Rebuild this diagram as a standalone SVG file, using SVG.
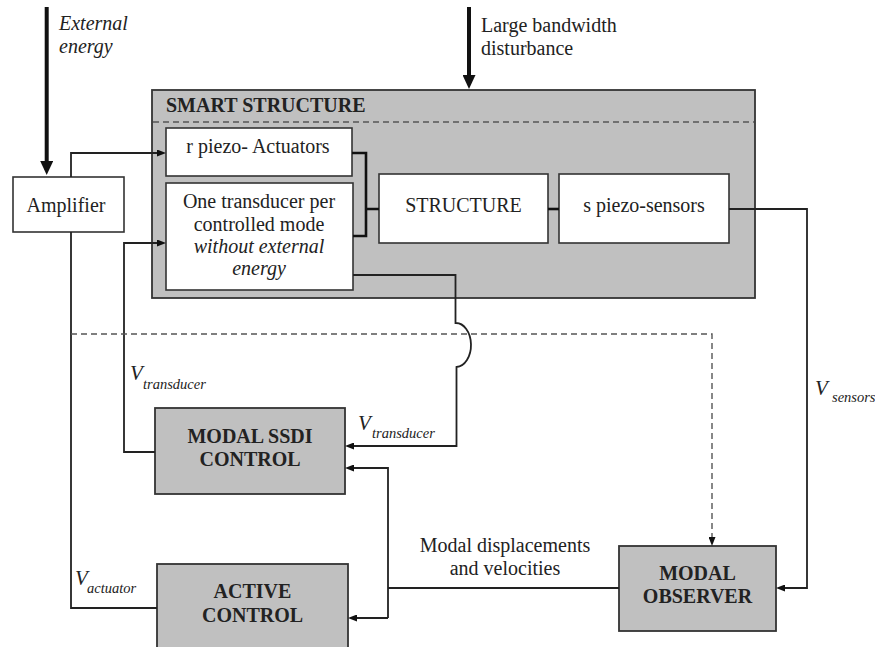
<svg xmlns="http://www.w3.org/2000/svg" width="875" height="647" viewBox="0 0 875 647" font-family="'Liberation Serif', 'Times New Roman', Times, 'DejaVu Serif', serif">
<defs>
<style>
text{font-family:'Liberation Serif','Times New Roman',Times,'DejaVu Serif',serif;fill:#222;}
.t{font-size:20px;}
.c{text-anchor:middle;}
.b{font-weight:bold;}
.i{font-style:italic;}
.v{font-size:21px;font-style:italic;}
.s{font-size:14.5px;font-style:italic;}
.wbox{fill:#fff;stroke:#333;stroke-width:1.6;}
.gbox{fill:#c0c0c0;stroke:#333;stroke-width:1.8;}
.ln{fill:none;stroke:#222;stroke-width:1.8;}
.thk{fill:none;stroke:#111;stroke-width:2.6;}
.big{fill:none;stroke:#111;stroke-width:4;}
.dash{fill:none;stroke:#555;stroke-width:1.4;stroke-dasharray:6 4;}
</style>
<marker id="arr" markerUnits="userSpaceOnUse" markerWidth="9" markerHeight="7" refX="6" refY="3.5" orient="auto">
<path d="M0,0 L9,3.5 L0,7 z" fill="#111"/>
</marker>
<marker id="bigArr" markerUnits="userSpaceOnUse" markerWidth="14" markerHeight="13" refX="9" refY="6.5" orient="auto">
<path d="M0,0 L14,6.5 L0,13 z" fill="#111"/>
</marker>
</defs>
<rect width="875" height="647" fill="#fff"/>

<g id="external-energy">
<text class="t i" x="59" y="30">External</text>
<text class="t i" x="59" y="53">energy</text>
</g>
<g id="disturbance">
<text class="t" x="481" y="32">Large bandwidth</text>
<text class="t" x="481" y="55">disturbance</text>
</g>

<g id="smart-structure">
<rect class="gbox" x="152" y="90" width="603" height="208" stroke-width="2.5"/>
<line x1="153" y1="122" x2="754" y2="122" stroke="#555" stroke-width="1.3" stroke-dasharray="6 4"/>
<text class="t b" x="166" y="112">SMART STRUCTURE</text>
</g>
<g id="actuators">
<rect class="wbox" x="166" y="128" width="186" height="48"/>
<text class="t c" x="258" y="153">r piezo- Actuators</text>
</g>
<g id="transducer">
<rect class="wbox" x="166" y="183" width="187" height="107"/>
<text class="t c" x="259" y="208">One transducer per</text>
<text class="t c" x="259" y="231">controlled mode</text>
<text class="t c i" x="259" y="253">without external</text>
<text class="t c i" x="259" y="275">energy</text>
</g>
<g id="structure">
<rect class="wbox" x="379" y="174" width="169" height="69"/>
<text class="t c" x="463.5" y="212">STRUCTURE</text>
</g>
<g id="sensors">
<rect class="wbox" x="559" y="174" width="170" height="69"/>
<text class="t c" x="644" y="212">s piezo-sensors</text>
</g>
<g id="amplifier">
<rect class="wbox" x="13" y="177" width="111" height="55"/>
<text class="t c" x="66" y="212">Amplifier</text>
</g>
<g id="modal-ssdi">
<rect class="gbox" x="155" y="408" width="190" height="86"/>
<text class="t c b" x="250" y="443">MODAL SSDI</text>
<text class="t c b" x="250" y="466">CONTROL</text>
</g>
<g id="active-control">
<rect class="gbox" x="157" y="564" width="191" height="90"/>
<text class="t c b" x="252.5" y="598">ACTIVE</text>
<text class="t c b" x="252.5" y="622">CONTROL</text>
</g>
<g id="modal-observer">
<rect class="gbox" x="619" y="546" width="157" height="85"/>
<text class="t c b" x="697.5" y="580">MODAL</text>
<text class="t c b" x="697.5" y="603">OBSERVER</text>
</g>

<g id="connectors">
<path class="big" d="M46.7,7 V170" marker-end="url(#bigArr)"/>
<path class="big" d="M469,7 V84" marker-end="url(#bigArr)"/>
<path class="ln" d="M71,177 V153 H163" marker-end="url(#arr)"/>
<path class="ln" d="M71,232 V608 H157"/>
<path class="ln" d="M155,452 H124 V243 H163" marker-end="url(#arr)"/>
<path class="thk" d="M352,153 H366 V236 H353 M366,209 H379"/>
<path class="thk" d="M548,209 H559"/>
<path class="ln" d="M729,209 H807 V588 H779" marker-end="url(#arr)"/>
<path class="ln" d="M353,275 H455.5 V323 A15 22 0 0 1 456.5,367 V446 H348" marker-end="url(#arr)"/>
<path class="ln" d="M619,588 H388"/>
<path class="ln" d="M388,618 V468 H348" marker-end="url(#arr)"/>
<path class="ln" d="M388,618 H351" marker-end="url(#arr)"/>
<path class="dash" d="M71,334 H712 V543" marker-end="url(#arr)"/>
</g>

<g id="labels">
<text class="v" x="130" y="380">V</text><text class="s" x="143" y="389">transducer</text>
<text class="v" x="358" y="430">V</text><text class="s" x="372" y="438">transducer</text>
<text class="v" x="75" y="585">V</text><text class="s" x="87" y="593">actuator</text>
<text class="v" x="815" y="395">V</text><text class="s" x="832" y="402">sensors</text>
<text class="t c" x="505" y="552">Modal displacements</text>
<text class="t c" x="505" y="575">and velocities</text>
</g>
</svg>
